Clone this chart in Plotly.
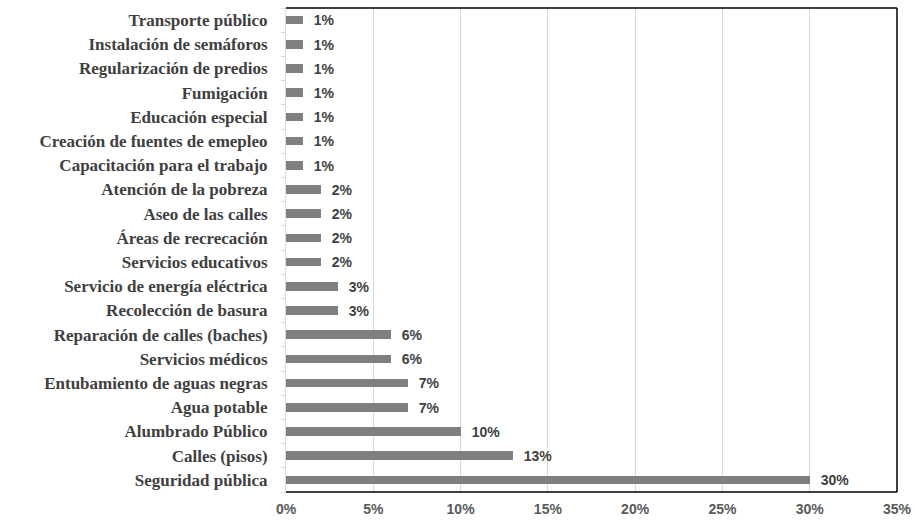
import plotly.graph_objects as go

categories = [
    "Seguridad pública", "Calles (pisos)", "Alumbrado Público", "Agua potable",
    "Entubamiento de aguas negras", "Servicios médicos", "Reparación de calles (baches)",
    "Recolección de basura", "Servicio de energía eléctrica", "Servicios educativos",
    "Áreas de recrecación", "Aseo de las calles", "Atención de la pobreza",
    "Capacitación para el trabajo", "Creación de fuentes de emepleo", "Educación especial",
    "Fumigación", "Regularización de predios", "Instalación de semáforos", "Transporte público",
]
values = [30, 13, 10, 7, 7, 6, 6, 3, 3, 2, 2, 2, 2, 1, 1, 1, 1, 1, 1, 1]
x_ticks = [0, 5, 10, 15, 20, 25, 30, 35]
x_tick_labels = [f"{t}%" for t in x_ticks]

fig = go.Figure(go.Bar(
    x=values, y=categories, orientation="h",
    marker=dict(color="#7f7f7f", line=dict(width=0)),
    width=0.36,
    text=[f"\u00a0\u00a0{v}%" for v in values],
    textposition="outside", cliponaxis=False, constraintext="none",
    textfont=dict(family="Liberation Sans, Arial", size=14, color="#404040", weight="bold"),
    hoverinfo="skip",
))

fig.update_layout(
    width=915, height=522,
    margin=dict(l=286, r=18, t=8, b=30),
    plot_bgcolor="white", paper_bgcolor="white",
    showlegend=False,
    bargap=0,
    uniformtext=dict(mode=False),
    xaxis=dict(
        range=[0, 35], tickvals=x_ticks, ticktext=x_tick_labels,
        showgrid=True, gridcolor="#d9d9d9", gridwidth=1,
        zeroline=False, showline=False, ticks="",
        tickfont=dict(family="Liberation Sans, Arial", size=14, color="#595959", weight="bold"),
        ticklabelstandoff=7, automargin=False,
    ),
    yaxis=dict(
        categoryorder="array", categoryarray=categories,
        showline=True, linecolor="#d9d9d9", linewidth=1,
        ticks="outside", tickson="boundaries", ticklen=4, tickcolor="#d9d9d9",
        showgrid=False, zeroline=False,
        tickfont=dict(family="Liberation Serif, Times New Roman", size=17, color="#404040", weight="bold"),
        ticklabelstandoff=14, automargin=False,
    ),
    shapes=[
        dict(type="line", xref="paper", yref="paper", x0=0, x1=1, y0=0, y1=0,
             line=dict(color="black", width=1.5)),
        dict(type="line", xref="paper", yref="paper", x0=0, x1=1, y0=1, y1=1,
             line=dict(color="black", width=1.5)),
        dict(type="line", xref="paper", yref="paper", x0=1, x1=1, y0=0, y1=1,
             line=dict(color="black", width=1.5)),
    ],
)

fig.write_html(
    "out.html",
    config={"displayModeBar": False},
    post_script="document.body.style.margin='0';document.body.style.overflow='hidden';",
)
